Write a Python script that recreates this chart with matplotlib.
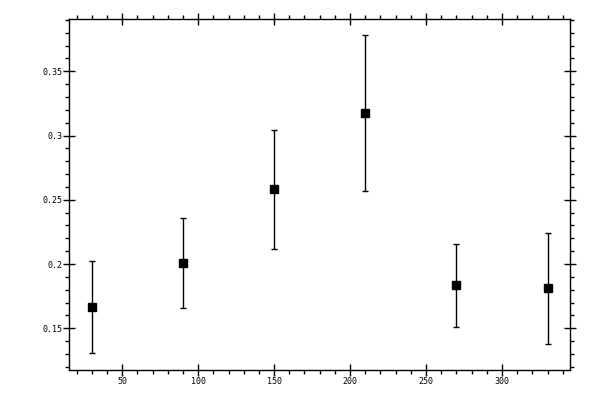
import matplotlib.pyplot as plt
from matplotlib.ticker import MultipleLocator, FormatStrFormatter

x = [30, 90, 150, 210, 270, 330]
y = [0.1663, 0.2006, 0.2582, 0.3173, 0.1835, 0.1811]
err = [0.0358, 0.0350, 0.0463, 0.0607, 0.0323, 0.0432]

fig = plt.figure(figsize=(6, 4), dpi=100)
ax = fig.add_axes([0.115, 0.075, 0.8355, 0.8768])

ax.errorbar(x, y, yerr=err, fmt="s", color="black", ms=5.5, elinewidth=1,
            capsize=2.5, capthick=1)

ax.set_xlim(15, 345)
ax.set_ylim(0.1175, 0.3905)

ax.xaxis.set_major_locator(MultipleLocator(50))
ax.xaxis.set_minor_locator(MultipleLocator(10))
ax.yaxis.set_major_locator(MultipleLocator(0.05))
ax.yaxis.set_minor_locator(MultipleLocator(0.01))
ax.yaxis.set_major_formatter(FormatStrFormatter("%g"))

ax.tick_params(which="major", direction="inout", length=8, width=1,
               top=True, right=True, labelsize=6, pad=1)
ax.tick_params(which="minor", direction="out", length=3, width=1,
               top=True, right=True)
for lab in ax.get_xticklabels() + ax.get_yticklabels():
    lab.set_family("DejaVu Sans Mono")
for s in ax.spines.values():
    s.set_linewidth(1)

plt.savefig("out.png")
